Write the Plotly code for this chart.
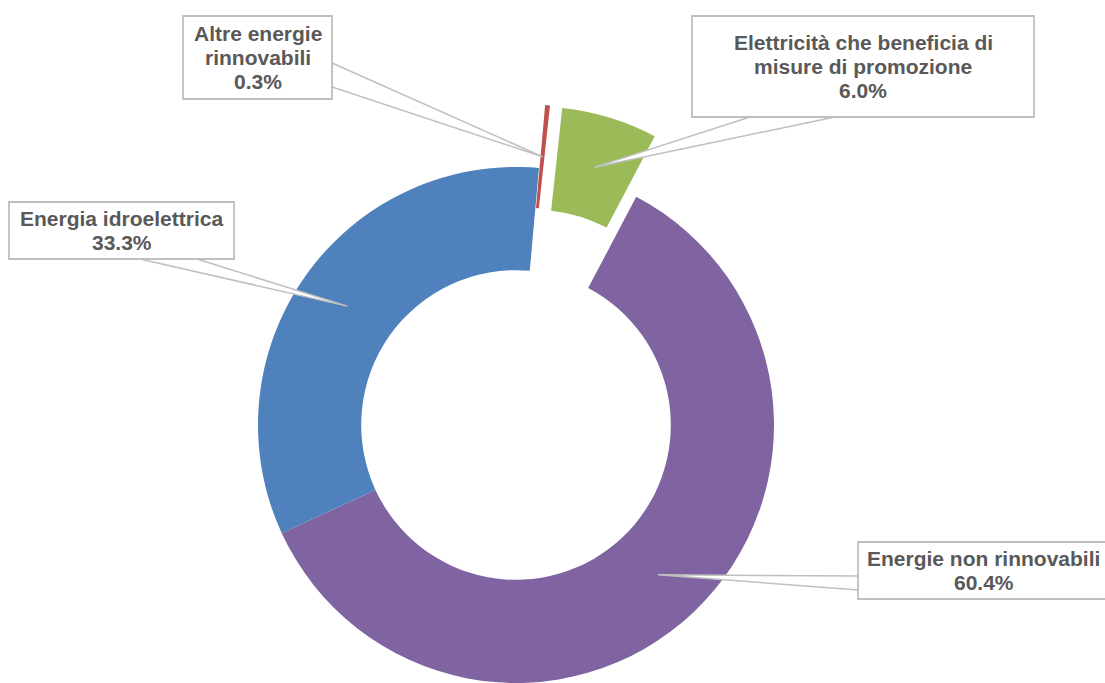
import numpy as np
import plotly.graph_objects as go

# ---------------- data ----------------
labels = ["Altre energie rinnovabili",
          "Elettricità che beneficia di misure di promozione",
          "Energie non rinnovabili",
          "Energia idroelettrica"]
values = [0.3, 6.0, 60.4, 33.3]
label_lines = [["Altre energie", "rinnovabili"],
               ["Elettricità che beneficia di", "misure di promozione"],
               ["Energie non rinnovabili"],
               ["Energia idroelettrica"]]
colors = ["#C0504D", "#9BBB59", "#8064A2", "#4F81BD"]
exploded = [True, True, False, False]

# ---------------- layout geometry (pixels) ----------------
W, H = 1105, 683
CX, CY, R = 516, 425, 258
HOLE = 0.6
ROT = 5.1
PULL = 0.245
TXT = "#595959"
GREY = "#BFBFBF"
LINE_STEP = 24

# label boxes: (x0, y0, x1, y1) and leader base points on the box edge
boxes = [
    dict(rect=(183, 16, 332, 99), base=[(332, 63), (332, 87)]),
    dict(rect=(692, 16, 1034, 117), base=[(750, 117), (835, 117)]),
    dict(rect=(858, 542, 1112, 599), base=[(858, 576), (858, 590)]),
    dict(rect=(9, 202, 234, 259), base=[(140, 259), (197, 259)]),
]
text_cx_override = {2: 984}


def fx(x):
    return x / W


def fy(y):
    return 1 - y / H


total = float(sum(values))
cum = np.cumsum([0] + values[:-1])
mid_deg = ROT + 360.0 * (cum + np.array(values) / 2) / total


def dom(dx=0.0, dy=0.0):
    return dict(x=[fx(CX - R + dx), fx(CX + R + dx)],
                y=[fy(CY + R + dy), fy(CY - R + dy)])


fig = go.Figure()
transparent = "rgba(0,0,0,0)"

# main ring (non-exploded slices)
fig.add_trace(go.Pie(
    labels=labels, values=values, hole=HOLE, sort=False, direction="clockwise",
    rotation=ROT, textinfo="none", hoverinfo="label+percent",
    marker=dict(colors=[transparent if e else c for c, e in zip(colors, exploded)],
                line=dict(width=0)),
    domain=dom(), showlegend=False))

shifts = []
for i, (c, e) in enumerate(zip(colors, exploded)):
    a = np.deg2rad(mid_deg[i])
    if e:
        dx = PULL * R * np.sin(a)
        dy = -PULL * R * np.cos(a)
        fig.add_trace(go.Pie(
            labels=labels, values=values, hole=HOLE, sort=False,
            direction="clockwise", rotation=ROT, textinfo="none",
            hoverinfo="label+percent",
            marker=dict(colors=[c if j == i else transparent for j in range(len(values))],
                        line=dict(width=0)),
            domain=dom(dx, dy), showlegend=False))
    else:
        dx, dy = 0.0, 0.0
    shifts.append((dx, dy))

shapes = []
annotations = []
rmid = R * (1 + HOLE) / 2
for i, b in enumerate(boxes):
    a = np.deg2rad(mid_deg[i])
    dx, dy = shifts[i]
    tx = CX + dx + rmid * np.sin(a)
    ty = CY + dy - rmid * np.cos(a)
    (p1x, p1y), (p2x, p2y) = b["base"]
    path = (f"M {fx(p1x)} {fy(p1y)} L {fx(tx)} {fy(ty)} "
            f"L {fx(p2x)} {fy(p2y)} Z")
    shapes.append(dict(type="path", path=path, xref="paper", yref="paper",
                       fillcolor="white", line=dict(color=GREY, width=1.5),
                       layer="above"))
    x0, y0, x1, y1 = b["rect"]
    shapes.append(dict(type="rect", xref="paper", yref="paper",
                       x0=fx(x0), x1=fx(x1), y0=fy(y1), y1=fy(y0),
                       fillcolor="white", line=dict(color=GREY, width=1.8),
                       layer="above"))
    lines = label_lines[i] + [f"{values[i]:.1f}%"]
    n = len(lines)
    bcx = text_cx_override.get(i, (x0 + x1) / 2)
    bcy = (y0 + y1) / 2
    for k, t in enumerate(lines):
        ly = bcy + (k - (n - 1) / 2) * LINE_STEP
        annotations.append(dict(
            text=t, x=fx(bcx), y=fy(ly), xref="paper", yref="paper",
            xanchor="center", yanchor="middle", showarrow=False,
            font=dict(family="Arial, Liberation Sans, sans-serif", size=21,
                      color=TXT, weight="bold")))

fig.update_layout(
    width=W, height=H,
    margin=dict(l=0, r=0, t=0, b=0),
    paper_bgcolor="white", plot_bgcolor="white",
    showlegend=False,
    shapes=shapes, annotations=annotations,
)

fig.write_html(
    "out.html",
    config={"displayModeBar": False},
    post_script="document.body.style.margin='0';document.body.style.overflow='hidden';",
)
